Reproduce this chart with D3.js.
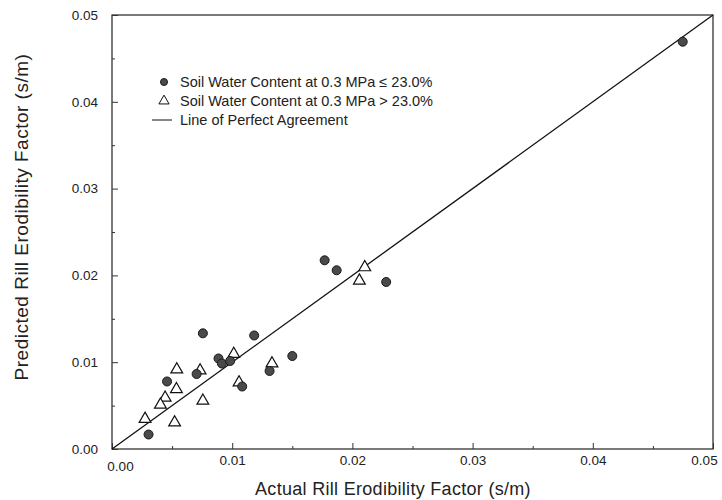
<!DOCTYPE html>
<html>
<head>
<meta charset="utf-8">
<script src="https://cdn.jsdelivr.net/npm/d3@7"></script>
<style>
  body { margin: 0; background: #fff; }
  text { font-family: "Liberation Sans", Arial, sans-serif; fill: #222; }
</style>
</head>
<body>
<div id="chart"></div>
<script>
// ---- data ----
const lowActual = [0.00756, 0.01183, 0.00886, 0.00914, 0.00983, 0.00458, 0.00704, 0.01083, 0.01311, 0.0150, 0.00304, 0.01769, 0.01869, 0.02281, 0.04748];
const lowPred   = [0.01333, 0.01308, 0.01043, 0.00985, 0.01014, 0.00778, 0.00864, 0.00720, 0.00899, 0.01071, 0.00167, 0.02174, 0.02059, 0.01924, 0.04692];

const highActual = [0.00539, 0.00733, 0.01013, 0.01057, 0.01331, 0.00536, 0.00442, 0.00403, 0.00275, 0.00521, 0.00756, 0.02103, 0.02058];
const highPred   = [0.00916, 0.00904, 0.01094, 0.00766, 0.00985, 0.00688, 0.00590, 0.00510, 0.00346, 0.00305, 0.00556, 0.02093, 0.01939];

const majorTicks = [0, 0.01, 0.02, 0.03, 0.04, 0.05];
const minorTicks = [0.005, 0.015, 0.025, 0.035, 0.045];
const agreement = [0, 0.05];

const legendLabels = [
  "Soil Water Content at 0.3 MPa \u2264 23.0%",
  "Soil Water Content at 0.3 MPa > 23.0%",
  "Line of Perfect Agreement"
];

const width = 722, height = 500;
const margin = {top: 15, right: 9, bottom: 51, left: 112};

const svg = d3.select("#chart").append("svg")
  .attr("width", width)
  .attr("height", height);

const x = d3.scaleLinear().domain([0, 0.05]).range([margin.left, width - margin.right]);
const y = d3.scaleLinear().domain([0, 0.05]).range([height - margin.bottom, margin.top]);

const fmt = d3.format(".2f");

// frame
svg.append("rect")
  .attr("x", x(0)).attr("y", y(0.05))
  .attr("width", x(0.05) - x(0)).attr("height", y(0) - y(0.05))
  .attr("fill", "none").attr("stroke", "#222").attr("stroke-width", 1.2);

// x axis (ticks inward)
svg.append("g")
  .attr("transform", `translate(0,${y(0)})`)
  .call(d3.axisBottom(x).tickValues(minorTicks).tickSize(-3).tickFormat(""))
  .call(g => g.select(".domain").remove())
  .call(g => g.selectAll("line").attr("stroke", "#333"));

svg.append("g")
  .attr("transform", `translate(0,${y(0)})`)
  .call(d3.axisBottom(x).tickValues(majorTicks).tickSize(-6).tickPadding(6).tickFormat(fmt))
  .call(g => g.select(".domain").remove())
  .call(g => g.selectAll("line").attr("stroke", "#333"))
  .call(g => g.selectAll("text")
    .attr("font-size", 13.5)
    .style("font-family", "'Liberation Sans', Arial, sans-serif")
    .attr("fill", "#222"))
  // the scanned labels sit a little off their ticks at both ends
  .call(g => g.selectAll(".tick text").filter(d => d === 0).attr("dx", 8).attr("dy", "1.2em"))
  .call(g => g.selectAll(".tick text").filter(d => d === 0.05).attr("dx", -9));

// y axis (ticks inward)
svg.append("g")
  .attr("transform", `translate(0,0)`)
  .attr("transform", `translate(${x(0)},0)`)
  .call(d3.axisLeft(y).tickValues(minorTicks).tickSize(-3).tickFormat(""))
  .call(g => g.select(".domain").remove())
  .call(g => g.selectAll("line").attr("stroke", "#333"));

svg.append("g")
  .attr("transform", `translate(${x(0)},0)`)
  .call(d3.axisLeft(y).tickValues(majorTicks).tickSize(-6).tickPadding(14).tickFormat(fmt))
  .call(g => g.select(".domain").remove())
  .call(g => g.selectAll("line").attr("stroke", "#333"))
  .call(g => g.selectAll("text")
    .attr("font-size", 13.5)
    .style("font-family", "'Liberation Sans', Arial, sans-serif")
    .attr("fill", "#222"));

// axis titles
svg.append("text")
  .attr("x", 393)
  .attr("y", 495)
  .attr("text-anchor", "middle")
  .attr("font-size", 18)
  .attr("letter-spacing", 0.3)
  .text("Actual Rill Erodibility Factor (s/m)");

svg.append("text")
  .attr("transform", `translate(28,217) rotate(-90)`)
  .attr("text-anchor", "middle")
  .attr("font-size", 19)
  .attr("letter-spacing", 0.5)
  .text("Predicted Rill Erodibility Factor (s/m)");

// line of perfect agreement
svg.append("path")
  .attr("d", d3.line().x(d => x(d)).y(d => y(d))(agreement))
  .attr("fill", "none")
  .attr("stroke", "#111")
  .attr("stroke-width", 1.3);

// markers
const tri = d3.symbol().type(d3.symbolTriangle).size(60);

svg.append("g").selectAll("path")
  .data(d3.range(highActual.length))
  .join("path")
  .attr("d", tri)
  .attr("transform", i => `translate(${x(highActual[i])},${y(highPred[i])})`)
  .attr("fill", "#fff")
  .attr("stroke", "#111")
  .attr("stroke-width", 1.2);

svg.append("g").selectAll("circle")
  .data(d3.range(lowActual.length))
  .join("circle")
  .attr("cx", i => x(lowActual[i]))
  .attr("cy", i => y(lowPred[i]))
  .attr("r", 4.5)
  .attr("fill", "#4a4a4a")
  .attr("stroke", "#1a1a1a")
  .attr("stroke-width", 1);

// legend
const lg = svg.append("g");
const rowY = [82, 101, 120];

lg.append("circle").attr("cx", 164).attr("cy", rowY[0]).attr("r", 3.5)
  .attr("fill", "#4a4a4a").attr("stroke", "#1a1a1a");
lg.append("path").attr("d", d3.symbol().type(d3.symbolTriangle).size(45))
  .attr("transform", `translate(164,${rowY[1]})`)
  .attr("fill", "#fff").attr("stroke", "#111").attr("stroke-width", 1);
lg.append("line").attr("x1", 152).attr("x2", 172).attr("y1", rowY[2]).attr("y2", rowY[2])
  .attr("stroke", "#111").attr("stroke-width", 1);

lg.selectAll("text")
  .data(legendLabels)
  .join("text")
  .attr("x", 180)
  .attr("y", (d, i) => rowY[i])
  .attr("dy", "0.35em")
  .attr("font-size", 14.5)
  .text(d => d);
</script>
</body>
</html>
